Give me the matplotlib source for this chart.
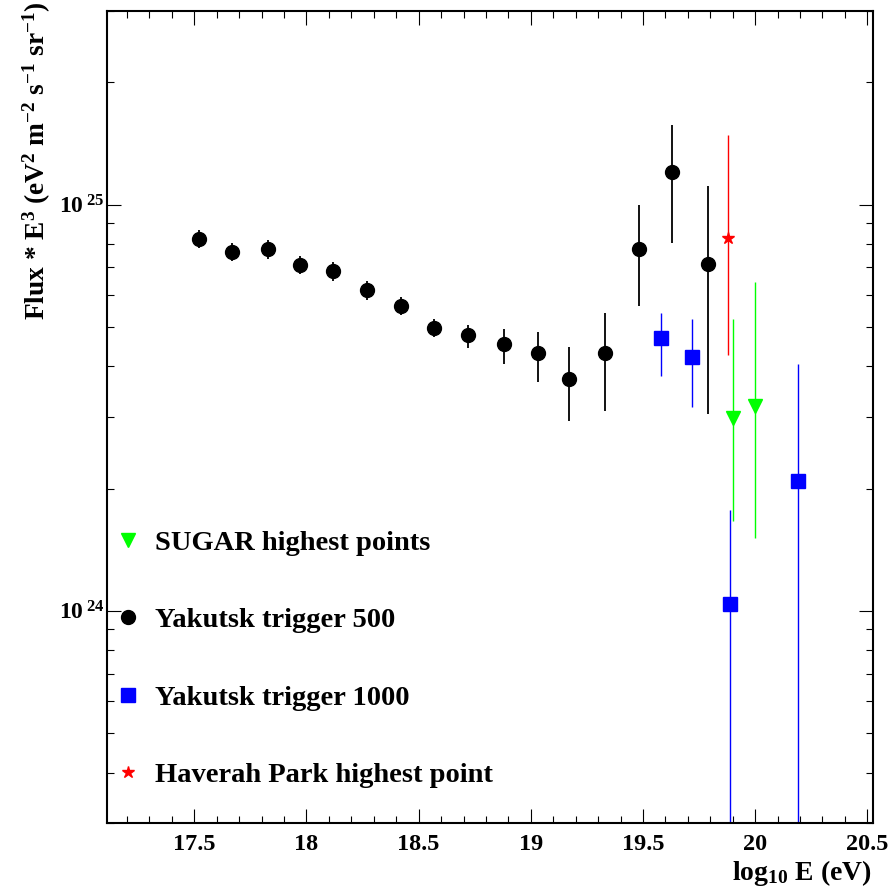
import matplotlib
matplotlib.use("Agg")
import numpy as np
import matplotlib.pyplot as plt
from matplotlib.lines import Line2D
from matplotlib.ticker import FixedLocator, FixedFormatter, MultipleLocator, LogLocator, NullFormatter

# Yakutsk, trigger 500
x_y500 = [17.52, 17.67, 17.83, 17.97, 18.12, 18.27, 18.42, 18.57, 18.72, 18.88, 19.03, 19.17, 19.33, 19.48, 19.63, 19.79]
f_y500 = [8.21e24, 7.65e24, 7.76e24, 7.11e24, 6.87e24, 6.16e24, 5.63e24, 4.96e24, 4.78e24, 4.53e24, 4.30e24, 3.72e24, 4.30e24, 7.76e24, 1.20e25, 7.12e24]
lo_y500 = [7.81e24, 7.25e24, 7.36e24, 6.73e24, 6.50e24, 5.83e24, 5.34e24, 4.71e24, 4.44e24, 4.06e24, 3.65e24, 2.94e24, 3.10e24, 5.63e24, 8.06e24, 3.05e24]
hi_y500 = [8.64e24, 8.05e24, 8.19e24, 7.47e24, 7.23e24, 6.50e24, 5.91e24, 5.23e24, 5.05e24, 4.95e24, 4.86e24, 4.45e24, 5.41e24, 1.00e25, 1.57e25, 1.11e25]

# Yakutsk, trigger 1000
x_y1000 = [19.58, 19.72, 19.89, 20.19]
f_y1000 = [4.70e24, 4.22e24, 1.04e24, 2.09e24]
lo_y1000 = [3.78e24, 3.17e24, 1.0e23, 1.0e23]
hi_y1000 = [5.42e24, 5.24e24, 1.77e24, 4.06e24]

# SUGAR
x_sugar = [19.90, 20.00]
f_sugar = [2.99e24, 3.19e24]
lo_sugar = [1.66e24, 1.51e24]
hi_sugar = [5.24e24, 6.46e24]

# Haverah Park
x_hp = [19.88]
f_hp = [8.28e24]
lo_hp = [4.26e24]
hi_hp = [1.48e25]

x_ticks = [17.5, 18.0, 18.5, 19.0, 19.5, 20.0, 20.5]
x_tick_labels = ["17.5", "18", "18.5", "19", "19.5", "20", "20.5"]
y_ticks = [1e24, 1e25]
y_tick_labels = [r"$10^{\;24}$", r"$10^{\;25}$"]

plt.rcParams["font.family"] = "Liberation Serif"
plt.rcParams["font.weight"] = "bold"
plt.rcParams["mathtext.fontset"] = "custom"
plt.rcParams["mathtext.rm"] = "Liberation Serif:bold"
plt.rcParams["mathtext.it"] = "Liberation Serif:bold"
plt.rcParams["mathtext.bf"] = "Liberation Serif:bold"
plt.rcParams["mathtext.default"] = "rm"


def yerr(f, lo, hi):
    f = np.array(f)
    return [f - np.array(lo), np.array(hi) - f]


fig = plt.figure(figsize=(8.9, 8.91), dpi=100)
ax = fig.add_axes([0.1206, 0.076, 0.86, 0.912])

ax.errorbar(x_y500, f_y500, yerr=yerr(f_y500, lo_y500, hi_y500), fmt="o", color="black",
            ms=10, elinewidth=1.3, capsize=0)
ax.errorbar(x_y1000, f_y1000, yerr=yerr(f_y1000, lo_y1000, hi_y1000), fmt="s", color="#0000ff",
            ms=10, elinewidth=1.0, capsize=0)
ax.errorbar(x_hp, f_hp, yerr=yerr(f_hp, lo_hp, hi_hp), fmt="*", color="#ff0000",
            ms=9, elinewidth=1.0, capsize=0)
ax.errorbar(x_sugar, f_sugar, yerr=yerr(f_sugar, lo_sugar, hi_sugar), fmt="v", color="#00ff00",
            ms=9.5, elinewidth=1.0, capsize=0)

ax.set_yscale("log")
ax.set_xlim(17.1125, 20.524)
ax.set_ylim(3.0e23, 3.0e25)

ax.xaxis.set_major_locator(FixedLocator(x_ticks))
ax.xaxis.set_major_formatter(FixedFormatter(x_tick_labels))
ax.xaxis.set_minor_locator(MultipleLocator(0.1))
ax.yaxis.set_major_locator(FixedLocator(y_ticks))
ax.yaxis.set_major_formatter(FixedFormatter(y_tick_labels))
ax.yaxis.set_minor_locator(LogLocator(base=10, subs=np.arange(2, 10)))
ax.yaxis.set_minor_formatter(NullFormatter())

ax.tick_params(which="both", direction="in", top=True, right=True, width=0.8)
ax.tick_params(which="major", length=10)
ax.tick_params(which="minor", length=5)
ax.tick_params(axis="x", pad=8, labelsize=17.5)
ax.tick_params(axis="y", pad=2, labelsize=17)
for s in ax.spines.values():
    s.set_linewidth(1.5)

fig.text(37 / 890, 1 - 2 / 891,
         r"Flux * E$^{3}$ (eV$^{2}$ m$^{-2}$ s$^{-1}$ sr$^{-1}$)",
         rotation=90, ha="center", va="top", fontsize=19.7)
fig.text(872 / 890, 1 - 880 / 891, r"log$_{10}$ E (eV)", ha="right", va="baseline", fontsize=20)

handles = [
    Line2D([], [], marker="v", color="#00ff00", ls="none", ms=9.5),
    Line2D([], [], marker="o", color="black", ls="none", ms=10),
    Line2D([], [], marker="s", color="#0000ff", ls="none", ms=10),
    Line2D([], [], marker="*", color="#ff0000", ls="none", ms=9),
]
labels = ["SUGAR highest points", "Yakutsk trigger 500", "Yakutsk trigger 1000", "Haverah Park highest point"]
ax.legend(handles, labels, loc="upper left", bbox_to_anchor=(0.0088, 0.3609), frameon=False,
          fontsize=20.5, handlelength=0.95, handletextpad=0.5, labelspacing=1.805,
          borderpad=0, borderaxespad=0)

fig.savefig("out.png", dpi=100)
